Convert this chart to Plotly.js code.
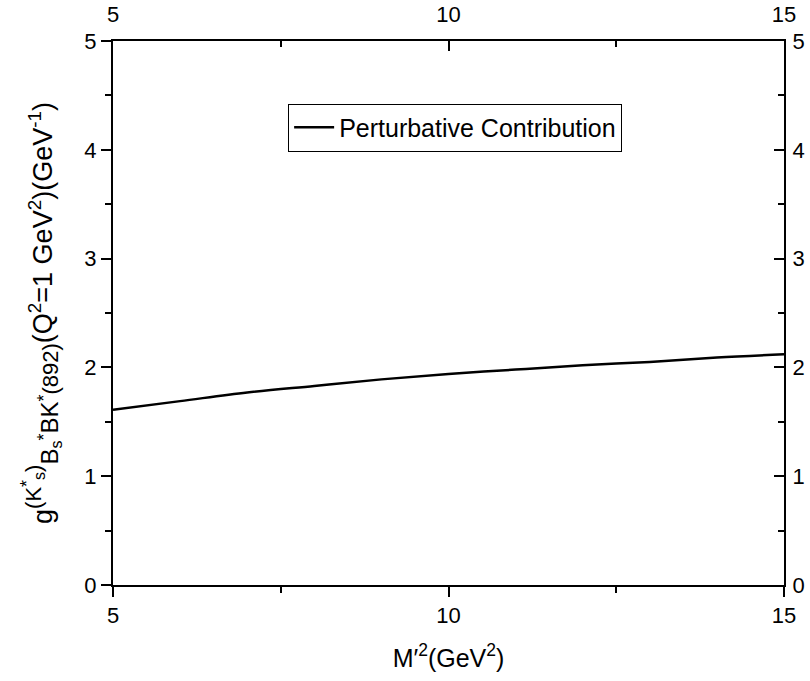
<!DOCTYPE html>
<html>
<head>
<meta charset="utf-8">
<script src="https://cdn.plot.ly/plotly-3.0.1.min.js"></script>
<style>body{margin:0;background:#fff}#chart{width:810px;height:681px}</style>
</head>
<body>
<div id="chart"></div>
<script>
const m2 = [5, 6, 7, 8, 9, 10, 11, 12, 13, 14, 15];
const gPert = [1.61, 1.69, 1.77, 1.83, 1.89, 1.94, 1.98, 2.02, 2.05, 2.09, 2.12];
const seriesName = 'Perturbative Contribution';
const xTicks = [5, 10, 15];
const yTicks = [0, 1, 2, 3, 4, 5];

const fam = 'Arial, Liberation Sans, sans-serif';
const fnt = {family: fam, size: 22, color: '#000'};
const trace = {
  x: m2, y: gPert, type: 'scatter', mode: 'lines', name: seriesName,
  line: {color: '#000', width: 2.5, shape: 'spline'}
};
const ghost = {x: m2, y: gPert, xaxis: 'x2', yaxis: 'y2', type: 'scatter', mode: 'lines',
  line: {color: 'rgba(0,0,0,0)'}, showlegend: false, hoverinfo: 'skip'};
const common = {showgrid: false, zeroline: false, showline: true, linecolor: '#000', linewidth: 2,
  tickcolor: '#000', tickwidth: 2, tickfont: fnt};
const yTitle = 'g<sup><span style="font-size:22px">(K</span><sup><span style="font-size:18px">*</span></sup><sub><span style="font-size:16px">s</span></sub><span style="font-size:22px">)</span></sup>' +
  '<sub><span style="font-size:24px">B</span><sub><span style="font-size:16px">s</span></sub><sup><span style="font-size:18px">*</span></sup><span style="font-size:24px">BK</span><sup><span style="font-size:18px">*</span></sup><span style="font-size:22px">(892)</span></sub>' +
  '(Q<sup>2</sup>=1 GeV<sup>2</sup>)(GeV<sup>-1</sup>)';
const layout = {
  width: 810, height: 681,
  margin: {l: 113, r: 26, t: 41, b: 96},
  paper_bgcolor: '#fff', plot_bgcolor: '#fff',
  showlegend: true,
  legend: {x: 0.261, y: 0.885, xanchor: 'left', yanchor: 'top', bordercolor: '#000', borderwidth: 1,
    bgcolor: '#fff', font: {family: fam, size: 25, color: '#000'}, itemwidth: 40, tracegroupgap: 0},
  xaxis: Object.assign({}, common, {range: [5, 15], tickvals: xTicks, ticks: 'outside', ticklen: 10,
    minor: {dtick: 2.5, ticklen: 6, ticks: 'outside', tickcolor: '#000', tickwidth: 2},
    title: {text: 'M′<sup>2</sup>(GeV<sup>2</sup>)', font: {family: fam, size: 25, color: '#000'}, standoff: 22}}),
  xaxis2: Object.assign({}, common, {range: [5, 15], tickvals: xTicks, ticks: 'inside', ticklen: 10,
    overlaying: 'x', side: 'top', anchor: 'y', ticklabelstandoff: 8,
    minor: {dtick: 2.5, ticklen: 6, ticks: 'inside', tickcolor: '#000', tickwidth: 2}}),
  yaxis: Object.assign({}, common, {range: [0, 5], tickvals: yTicks, ticks: 'outside', ticklen: 10,
    minor: {dtick: 0.5, ticklen: 6, ticks: 'outside', tickcolor: '#000', tickwidth: 2},
    title: {text: yTitle, font: {family: fam, size: 27, color: '#000'}, standoff: 24}}),
  yaxis2: Object.assign({}, common, {range: [0, 5], tickvals: yTicks, ticks: 'inside', ticklen: 10,
    overlaying: 'y', side: 'right', anchor: 'x', ticklabelstandoff: 2,
    minor: {dtick: 0.5, ticklen: 6, ticks: 'inside', tickcolor: '#000', tickwidth: 2}})
};
Plotly.newPlot('chart', [trace, ghost], layout, {displayModeBar: false, staticPlot: true});
</script>
</body>
</html>
